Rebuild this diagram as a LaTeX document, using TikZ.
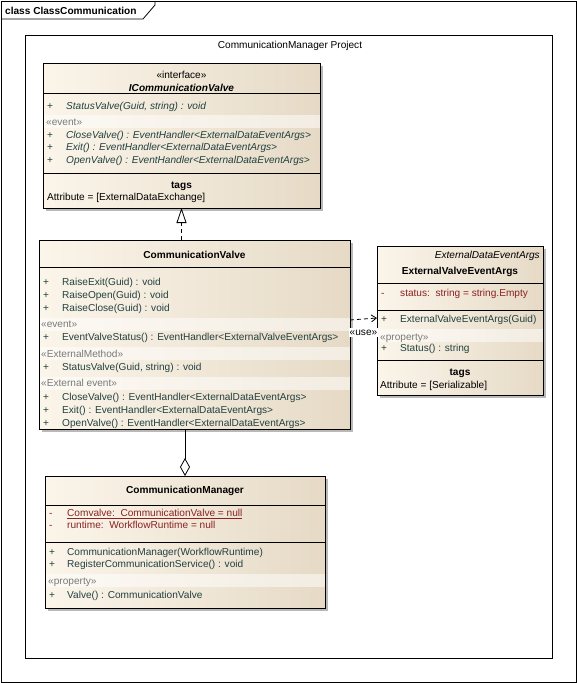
\documentclass[tikz,border=0pt]{standalone}
\usepackage{fontspec}
\setmainfont{Liberation Sans}
\usetikzlibrary{arrows.meta,shadows}
\definecolor{boxL}{HTML}{FBF5EA}
\definecolor{boxR}{HTML}{E6DAC6}
\definecolor{optxt}{HTML}{224040}
\definecolor{attxt}{HTML}{8B2222}
\definecolor{sttxt}{HTML}{7A7A7A}
\tikzset{
  frame/.style={draw=black, line width=0.8pt},
  umlbox/.style={draw=black, line width=0.8pt, left color=boxL, right color=boxR,
    anchor=north west, inner sep=0pt, outer sep=0pt,
    drop shadow={shadow xshift=3pt, shadow yshift=-3pt, fill=black!50, opacity=0.55}},
  divider/.style={draw=black, line width=0.8pt},
  band/.style={fill=white, opacity=0.5},
  txt/.style={inner sep=0pt, text height=7pt, text depth=0pt, font=\fontsize{10.1}{12}\selectfont},
  row/.style={txt, anchor=west, text=optxt},
  rowi/.style={row, font=\fontsize{10.1}{12}\selectfont\itshape},
  attr/.style={txt, anchor=west, text=attxt},
  stereo/.style={txt, anchor=west, text=sttxt},
  plain/.style={txt, anchor=west, text=black},
  ctr/.style={txt, anchor=center, text=black},
  ttlb/.style={ctr, font=\fontsize{10.1}{12}\selectfont\bfseries},
  conn/.style={draw=black, line width=0.8pt},
  dashconn/.style={conn, dash pattern=on 4pt off 3pt},
}
\begin{document}
\begin{tikzpicture}[x=1pt, y=-1pt]
\useasboundingbox (0,0) rectangle (577,683);
% outer frame
\draw[frame] (1,1) rectangle (576,682);
\draw[frame] (1,19) -- (143,19) -- (155,5) -- (155,1);
\node[plain, font=\fontsize{10.1}{12}\selectfont\bfseries] (ttl) at (5,11) {class ClassCommunication};
% boundary
\draw[frame] (25,35) rectangle (552,658);
\node[ctr] (proj) at (290,45) {CommunicationManager Project};

% ICommunicationValve
\node[umlbox, minimum width=277pt, minimum height=145pt] (ic) at (43,63) {};
\node[ctr] (icst) at (181.5,75) {«interface»};
\node[ctr, font=\fontsize{10.1}{12}\selectfont\bfseries\itshape] (icnm) at (181.5,88) {ICommunicationValve};
\draw[divider] (43,93) -- (320,93);
\node[row] (icp1) at (47,106) {+};
\node[rowi] (ico1) at (66,106) {StatusValve(Guid, string) : void};
\fill[band] (43.5,115) rectangle (319.5,128);
\node[stereo] (icst2) at (46,122) {«event»};
\node[row] (icp2) at (47,135) {+};
\node[rowi] (ico2) at (66,135) {CloseValve() : EventHandler<ExternalDataEventArgs>};
\node[row] (icp3) at (47,147) {+};
\node[rowi] (ico3) at (66,147) {Exit() : EventHandler<ExternalDataEventArgs>};
\node[row] (icp4) at (47,160) {+};
\node[rowi] (ico4) at (66,160) {OpenValve() : EventHandler<ExternalDataEventArgs>};
\draw[divider] (43,173) -- (320,173);
\node[ttlb] (ictg) at (181.5,185) {tags};
\node[plain] (icat) at (47,197) {Attribute = [ExternalDataExchange]};

% CommunicationValve
\node[umlbox, minimum width=311pt, minimum height=189pt] (cv) at (39,240) {};
\node[ttlb] (cvnm) at (194.5,255) {CommunicationValve};
\draw[divider] (39,267) -- (350,267);
\node[row] (cvp1) at (43,282) {+};
\node[row] (cvo1) at (62,282) {RaiseExit(Guid) : void};
\node[row] (cvp2) at (43,295) {+};
\node[row] (cvo2) at (62,295) {RaiseOpen(Guid) : void};
\node[row] (cvp3) at (43,308) {+};
\node[row] (cvo3) at (62,308) {RaiseClose(Guid) : void};
\fill[band] (39.5,318) rectangle (349.5,331);
\node[stereo] (cvs1) at (41,324) {«event»};
\node[row] (cvp4) at (43,337) {+};
\node[row] (cvo4) at (62,337) {EventValveStatus() : EventHandler<ExternalValveEventArgs>};
\fill[band] (39.5,347) rectangle (349.5,360);
\node[stereo] (cvs2) at (41,354) {«ExternalMethod»};
\node[row] (cvp5) at (43,367) {+};
\node[row] (cvo5) at (62,367) {StatusValve(Guid, string) : void};
\fill[band] (39.5,377) rectangle (349.5,390);
\node[stereo] (cvs3) at (41,383) {«External event»};
\node[row] (cvp6) at (43,397) {+};
\node[row] (cvo6) at (62,397) {CloseValve() : EventHandler<ExternalDataEventArgs>};
\node[row] (cvp7) at (43,410) {+};
\node[row] (cvo7) at (62,410) {Exit() : EventHandler<ExternalDataEventArgs>};
\node[row] (cvp8) at (43,423) {+};
\node[row] (cvo8) at (62,423) {OpenValve() : EventHandler<ExternalDataEventArgs>};

% ExternalValveEventArgs
\node[umlbox, minimum width=166pt, minimum height=149pt] (ev) at (377,246) {};
\node[txt, anchor=east, font=\fontsize{10.1}{12}\selectfont\itshape] (evpar) at (540,255) {ExternalDataEventArgs};
\node[ttlb] (evnm) at (460,271) {ExternalValveEventArgs};
\draw[divider] (377,283) -- (543,283);
\node[attr] (evm1) at (381,293) {-};
\node[attr] (eva1) at (400,293) {status:\ \ string = string.Empty};
\draw[divider] (377,310) -- (543,310);
\node[row] (evp1) at (381,319) {+};
\node[row] (evo1) at (400,319) {ExternalValveEventArgs(Guid)};
\fill[band] (377.5,329) rectangle (542.5,342);
\node[stereo] (evs1) at (380,337) {«property»};
\node[row] (evp2) at (381,348) {+};
\node[row] (evo2) at (400,348) {Status() : string};
\draw[divider] (377,360) -- (543,360);
\node[ttlb] (evtg) at (460,372) {tags};
\node[plain] (evat) at (380,385) {Attribute = [Serializable]};

% CommunicationManager
\node[umlbox, minimum width=280pt, minimum height=132pt] (cm) at (45,476) {};
\node[ttlb] (cmnm) at (185,490) {CommunicationManager};
\draw[divider] (45,505) -- (325,505);
\node[attr] (cmm1) at (49,513) {-};
\node[attr] (cma1) at (67,513) {\underline{Comvalve:\ \ CommunicationValve = null}};
\node[attr] (cmm2) at (49,525) {-};
\node[attr] (cma2) at (67,525) {runtime:\ \ WorkflowRuntime = null};
\draw[divider] (45,542) -- (325,542);
\node[row] (cmp1) at (49,552) {+};
\node[row] (cmo1) at (67,552) {CommunicationManager(WorkflowRuntime)};
\node[row] (cmp2) at (49,564) {+};
\node[row] (cmo2) at (67,564) {RegisterCommunicationService() : void};
\fill[band] (45.5,574) rectangle (324.5,587);
\node[stereo] (cms1) at (48,581) {«property»};
\node[row] (cmp3) at (49,595) {+};
\node[row] (cmo3) at (67,595) {Valve() : CommunicationValve};

% connectors
\draw[dashconn, -{Triangle[open, width=10pt, length=15pt, fill=white]}] (ic.south |- cv.north) -- (ic.south);
\draw[dashconn, -{Straight Barb[length=5pt, width=7pt]}] ([yshift=14.5pt]cv.east) -- ([yshift=2.5pt]ev.west)
  node[pos=0.5, below=8.5pt, txt, anchor=north, fill=white, inner sep=1pt] (uselbl) {«use»};
\draw[conn, -{Diamond[open, width=10pt, length=18pt, fill=white]}] (cv.south -| cm.north) -- (cm.north);
\end{tikzpicture}
\end{document}
